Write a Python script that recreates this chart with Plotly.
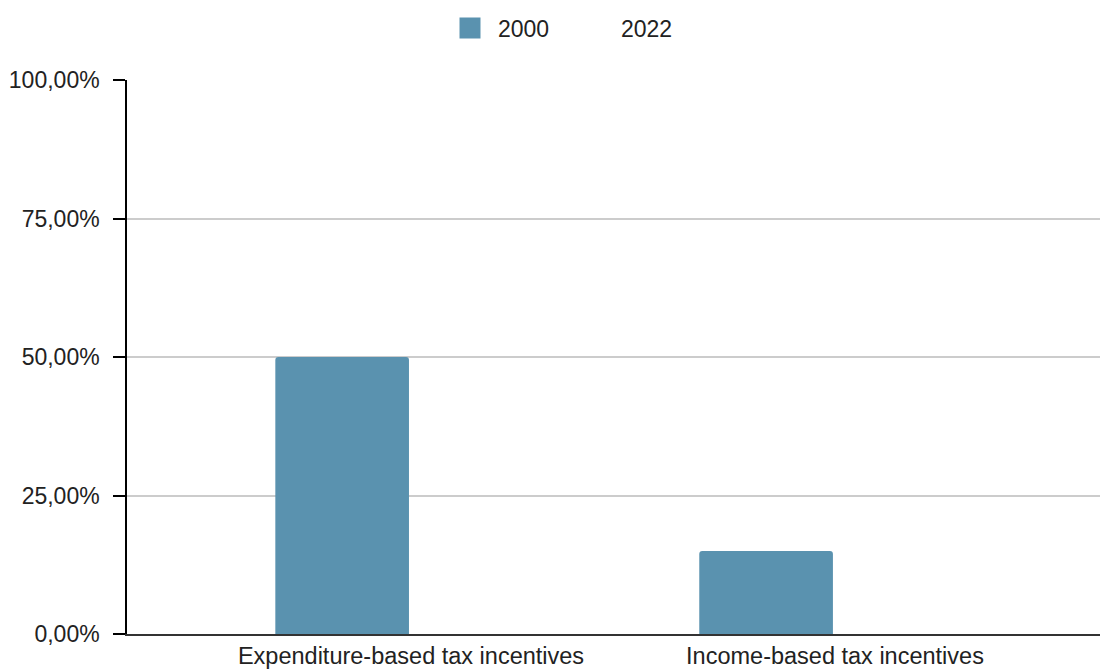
import plotly.graph_objects as go

categories = ["Expenditure-based tax incentives", "Income-based tax incentives"]
series_names = ["2000", "2022"]
values_2000 = [0.50, 0.15]
values_2022 = [0.0, 0.0]
y_ticks = [0, 0.25, 0.5, 0.75, 1.0]

blue = "#5a92af"
fig = go.Figure()
fig.add_trace(go.Bar(name=series_names[0], x=categories, y=values_2000, showlegend=False,
                     marker=dict(color=blue, line=dict(width=0))))
fig.add_trace(go.Bar(name=series_names[1], x=categories, y=values_2022, showlegend=False,
                     marker=dict(color="rgba(255,255,255,0)", line=dict(width=0))))
# legend entries
fig.add_trace(go.Scatter(name=series_names[0], x=[None], y=[None], mode="markers",
                         marker=dict(symbol="square", size=16, color=blue,
                                     line=dict(width=5, color=blue))))
fig.add_trace(go.Scatter(name=series_names[1], x=[None], y=[None], mode="markers",
                         marker=dict(symbol="square", size=16, color="rgba(255,255,255,0)",
                                     line=dict(width=0))))

font = "Liberation Sans, Arial, sans-serif"
fs = 23
fig.update_layout(
    width=1100, height=662,
    margin=dict(l=119, r=0, t=72, b=36, autoexpand=False),
    paper_bgcolor="white", plot_bgcolor="white",
    barmode="group", bargap=0.35, bargroupgap=0.03, barcornerradius=3,
    separators=",.",
    font=dict(family=font, size=fs, color="#222222"),
    showlegend=True,
    legend=dict(orientation="h", xref="container", x=434/1100, xanchor="left",
                yref="container", y=1 - 20/662, yanchor="middle",
                font=dict(size=fs, color="#222222"), itemwidth=46, entrywidth=62,
                traceorder="normal", itemsizing="trace"),
    xaxis=dict(range=[-0.67, 1.644], showgrid=False, showline=True, linecolor="#333333",
               linewidth=2, ticks="", tickfont=dict(size=23.5, color="#222222"), fixedrange=True,
               automargin=False),
    yaxis=dict(range=[0, 1], tickvals=y_ticks, tickformat=".2%", showgrid=True,
               gridcolor="#cccccc", gridwidth=1.5, showline=True, linecolor="black",
               linewidth=1.5, ticks="outside", ticklen=12, tickcolor="black", tickwidth=1.5,
               tickfont=dict(size=fs, color="#222222"), zeroline=False, ticklabelstandoff=9,
               automargin=False),
)
fig.write_html("out.html")
